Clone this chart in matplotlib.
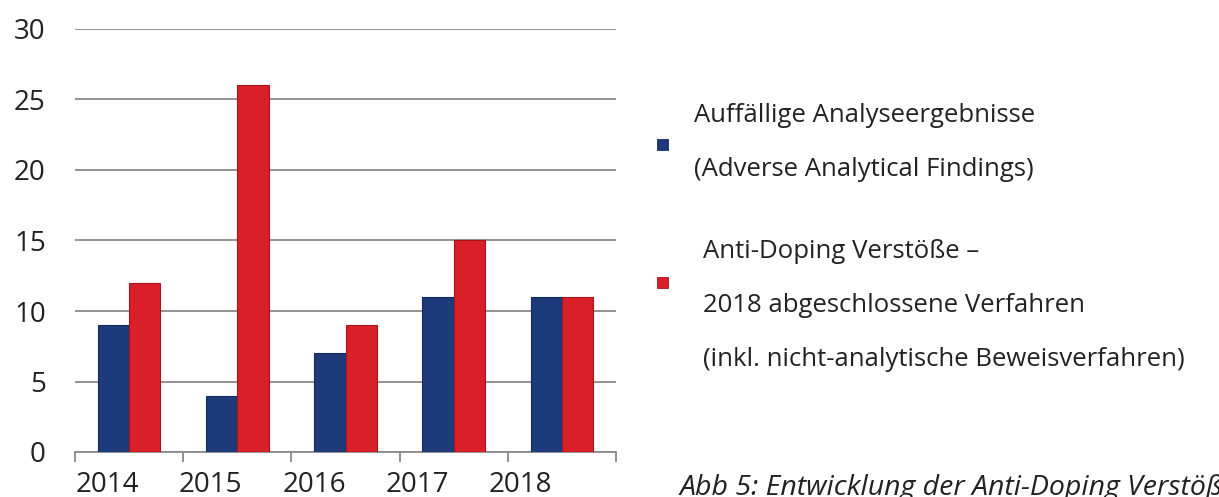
import matplotlib.pyplot as plt
import numpy as np
from matplotlib.patches import Rectangle

# Daten
jahre = ['2014', '2015', '2016', '2017', '2018']
auffaellige = [9, 4, 7, 11, 11]
verstoesse = [12, 26, 9, 15, 11]

legende_blau = ['Auffällige Analyseergebnisse', '(Adverse Analytical Findings)']
legende_rot = ['Anti-Doping Verstöße –', '2018 abgeschlossene Verfahren',
               '(inkl. nicht-analytische Beweisverfahren)']
bildunterschrift = 'Abb 5: Entwicklung der Anti-Doping Verstöße'

BLAU = '#1d3a7a'
ROT = '#d91f27'
GRAU = '#8a8a8a'
TEXT = '#222222'

plt.rcParams['font.family'] = ['Open Sans', 'DejaVu Sans']

fig = plt.figure(figsize=(12.19, 4.97), dpi=100)
ax = fig.add_axes([75 / 1219, 1 - 452 / 497, 541 / 1219, 423 / 497])

x = np.arange(len(jahre))
breite = 0.29
ax.bar(x - breite / 2, auffaellige, breite, color=BLAU, edgecolor='#142a5a', linewidth=0.8, zorder=3)
ax.bar(x + breite / 2, verstoesse, breite, color=ROT, edgecolor='#a8141b', linewidth=0.8, zorder=3)

ax.set_xlim(-0.5, len(jahre) - 0.5)
ax.set_ylim(0, 30)
ax.set_yticks(range(0, 31, 5))
ax.grid(axis='y', color=GRAU, linewidth=1.3, zorder=0)
ax.tick_params(axis='y', length=0, pad=21, labelsize=20, labelcolor=TEXT)

# Jahresbeschriftungen leicht nach links versetzt wie im Original
ax.set_xticks(x * 0.955 - 0.2)
ax.set_xticklabels(jahre)
ax.set_xticks(np.arange(len(jahre) + 1) - 0.5, minor=True)
ax.tick_params(axis='x', which='major', length=0, pad=14, labelsize=20, labelcolor=TEXT)
ax.tick_params(axis='x', which='minor', length=7, width=1.3, color=GRAU)

for s in ['top', 'right', 'left']:
    ax.spines[s].set_visible(False)
ax.spines['bottom'].set_color(GRAU)
ax.spines['bottom'].set_linewidth(1.3)

# Legende von Hand
def px(xp, yp):
    return xp / 1219, 1 - yp / 497

fig.add_artist(Rectangle(px(657, 150), 11 / 1219, 11 / 497, transform=fig.transFigure,
                         facecolor=BLAU, edgecolor='#142a5a', linewidth=0.6))
fig.add_artist(Rectangle(px(657, 288), 11 / 1219, 11 / 497, transform=fig.transFigure,
                         facecolor=ROT, edgecolor='#a8141b', linewidth=0.6))

for i, zeile in enumerate(legende_blau):
    fig.text(*px(694, 115 + i * 55), zeile, fontsize=18.5, va='center', color=TEXT)
for i, zeile in enumerate(legende_rot):
    fig.text(*px(703, 251 + i * 54), zeile, fontsize=18.5, va='center', color=TEXT)

fig.text(*px(680, 495), bildunterschrift, fontsize=20.5, style='italic', va='baseline', color=TEXT)

fig.savefig('out.png', dpi=100)
